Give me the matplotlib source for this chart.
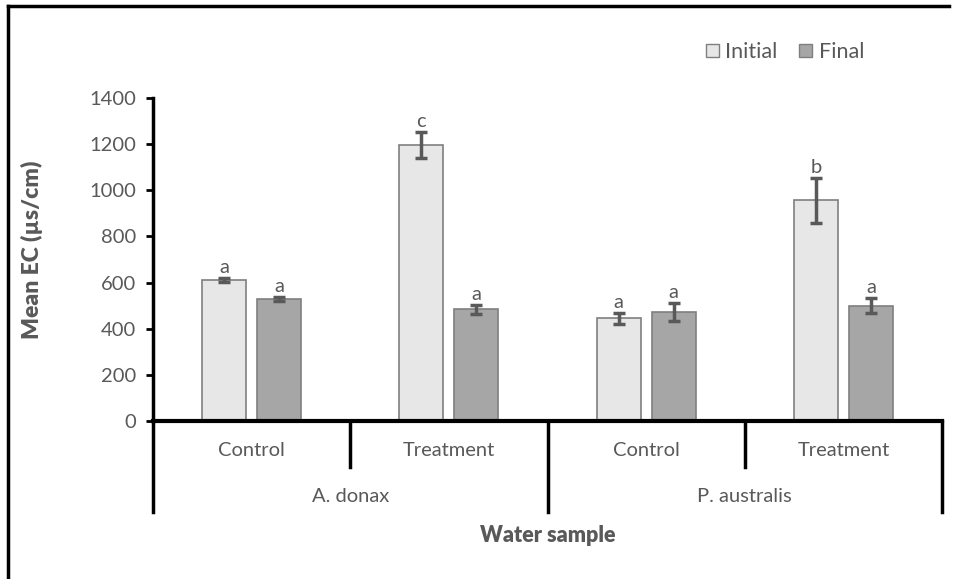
import matplotlib
matplotlib.use("Agg")
import matplotlib.pyplot as plt
from matplotlib.lines import Line2D
from matplotlib.patches import Patch
import numpy as np

plt.rcParams['font.family'] = ['Lato', 'DejaVu Sans']

# mean EC per treatment group (µs/cm)
species = ["A. donax", "P. australis"]
groups = ["Control", "Treatment", "Control", "Treatment"]
initial = [611, 1196, 445, 957]
final = [528, 484, 472, 500]
initial_err = [10, 58, 23, 97]
final_err = [9, 19, 38, 33]
initial_sig = ["a", "c", "a", "b"]
final_sig = ["a", "a", "a", "a"]

W, H = 957, 579
fig = plt.figure(figsize=(W / 100, H / 100), dpi=100)
ax = fig.add_axes([153 / W, 1 - 421 / H, (942 - 153) / W, (421 - 98) / H])

txt = "#595959"
fs = 14.5
x = np.arange(len(groups))
off, bw = 0.14, 0.223

ax.bar(x - off, initial, bw, color="#E7E7E7", edgecolor="#7F7F7F", linewidth=1.2, zorder=2)
ax.bar(x + off, final, bw, color="#A6A6A6", edgecolor="#7F7F7F", linewidth=1.2, zorder=2)
ax.errorbar(x - off, initial, yerr=initial_err, fmt="none", ecolor="#595959",
            elinewidth=2.5, capsize=4, capthick=2.5, zorder=3)
ax.errorbar(x + off, final, yerr=final_err, fmt="none", ecolor="#595959",
            elinewidth=2.5, capsize=4, capthick=2.5, zorder=3)

for xi, v, e, s in zip(x - off, initial, initial_err, initial_sig):
    ax.annotate(s, (xi, v + e), xytext=(0, 1.5), textcoords="offset points",
                ha="center", va="bottom", fontsize=fs, color=txt)
for xi, v, e, s in zip(x + off, final, final_err, final_sig):
    ax.annotate(s, (xi, v + e), xytext=(0, 1.5), textcoords="offset points",
                ha="center", va="bottom", fontsize=fs, color=txt)

ax.set_xlim(-0.5, len(groups) - 0.5)
ax.set_ylim(0, 1400)
ax.set_yticks(range(0, 1401, 200))
ax.tick_params(axis="y", direction="out", length=5, width=2, colors="black",
               labelcolor=txt, labelsize=fs, pad=7)
ax.set_xticks([])
for side in ["top", "right"]:
    ax.spines[side].set_visible(False)
ax.spines["left"].set_linewidth(2.5)
ax.spines["bottom"].set_linewidth(3)

# two-level category axis below the bars
trans = ax.get_xaxis_transform()
for b in [0.5, 2.5]:
    ax.plot([b, b], [0, -0.142], color="black", lw=2.5, transform=trans, clip_on=False)
for b in [-0.5, 1.5, 3.5]:
    ax.plot([b, b], [0, -0.282], color="black", lw=2.5, transform=trans, clip_on=False)
for xi, g in zip(x, groups):
    ax.text(xi, -0.09, g, transform=trans, ha="center", va="center", fontsize=fs, color=txt)
for i, sp in enumerate(species):
    ax.text(2 * i + 0.5, -0.235, sp, transform=trans, ha="center", va="center",
            fontsize=fs, color=txt)

ax.text(1.5, -0.355, "Water sample", transform=trans, ha="center", va="center",
        fontsize=15.5, fontweight="heavy", color=txt)
fig.text(32 / W, 1 - 250 / H, "Mean EC (µs/cm)", rotation=90, ha="center", va="center",
         fontsize=16.5, fontweight="heavy", color=txt)

handles = [Patch(facecolor="#E7E7E7", edgecolor="#7F7F7F", label="Initial"),
           Patch(facecolor="#A6A6A6", edgecolor="#7F7F7F", label="Final")]
leg = fig.legend(handles=handles, loc="center right", bbox_to_anchor=(864 / W, 1 - 52 / H),
                 ncol=2, frameon=False, handlelength=0.6, handleheight=0.6,
                 handletextpad=0.3, columnspacing=1.0, fontsize=15.5,
                 borderaxespad=0, borderpad=0)
for t in leg.get_texts():
    t.set_color(txt)

# outer frame
fig.add_artist(Line2D([8 / W, 8 / W], [0, 1 - 6 / H], color="black", lw=2.5))
fig.add_artist(Line2D([8 / W, 949 / W], [1 - 6 / H, 1 - 6 / H], color="black", lw=2.5))

fig.savefig("out.png", dpi=100)
